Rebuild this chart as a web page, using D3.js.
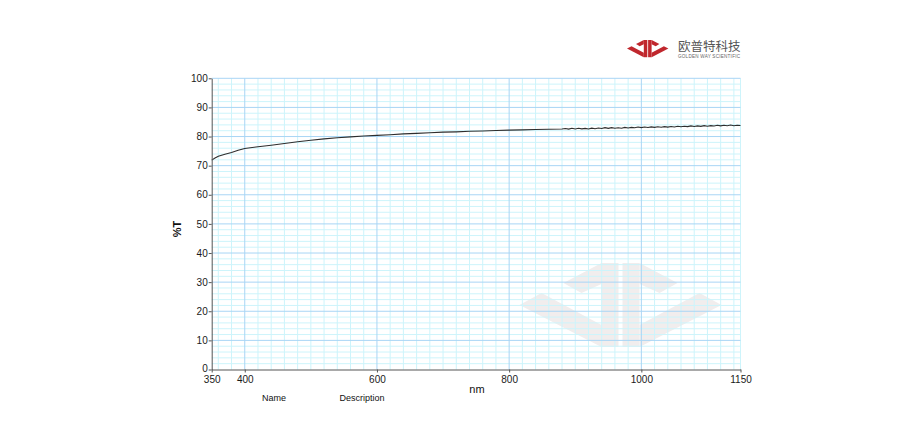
<!DOCTYPE html>
<html>
<head>
<meta charset="utf-8">
<script src="https://cdn.jsdelivr.net/npm/d3@7"></script>
<style>
  html, body { margin: 0; padding: 0; background: #ffffff; }
  svg { display: block; font-family: "Liberation Sans", Arial, sans-serif; }
</style>
</head>
<body>
<svg id="chart" width="924" height="440"></svg>
<script>
// ---- data ----
const wavelengths = [350,355,360,370,380,390,400,420,440,460,480,500,520,540,560,580,600,620,640,660,680,700,720,740,760,780,800,820,840,860,880,
  885,890,895,900,905,910,915,920,925,930,935,940,945,950,955,960,965,970,975,980,985,990,995,1000,
  1005,1010,1015,1020,1025,1030,1035,1040,1045,1050,1055,1060,1065,1070,1075,1080,1085,1090,1095,1100,
  1105,1110,1115,1120,1125,1130,1135,1140,1145,1150];
const transmittance = [71.9,72.6,73.2,73.9,74.5,75.3,75.9,76.5,77.0,77.6,78.2,78.7,79.2,79.6,79.9,80.2,80.4,80.6,80.9,81.1,81.3,81.5,81.6,81.8,81.9,82.1,82.2,82.3,82.4,82.5,82.6,
  82.75,82.55,82.85,82.6,82.85,82.65,82.8,82.6,82.9,82.7,82.95,82.75,83.05,82.8,83.05,82.85,83.0,82.85,83.15,82.95,83.15,83.0,83.25,83.05,
  83.25,83.1,83.3,83.15,83.35,83.2,83.4,83.25,83.45,83.3,83.55,83.35,83.55,83.4,83.65,83.45,83.65,83.5,83.75,83.55,
  83.75,83.6,83.85,83.65,83.85,83.7,83.95,83.7,83.9,83.8];
const xTickLabels = [350, 400, 600, 800, 1000, 1150];
const yTickLabels = [0,10,20,30,40,50,60,70,80,90,100];
const xMajorGrid = [400, 600, 800, 1000];
const xMinorGrid = [360,380,420,440,460,480,500,520,540,560,580,620,640,660,680,700,720,740,760,780,820,840,860,880,900,920,940,960,980,1020,1040,1060,1080,1100,1120,1140,1150];
const yMajorGrid = [10,20,30,40,50,60,70,80,90,100];
const yMinorGrid = [2,4,6,8,12,14,16,18,22,24,26,28,32,34,36,38,42,44,46,48,52,54,56,58,62,64,66,68,72,74,76,78,82,84,86,88,92,94,96,98];
const xAxisTitle = "nm";
const yAxisTitle = "%T";
const footerLabels = ["Name", "Description"];
const brandName = "欧普特科技";
const brandSub = "GOLDEN WAY SCIENTIFIC";

// ---- layout ----
const svg = d3.select("#chart");
const x = d3.scaleLinear().domain([350, 1150]).range([211.7, 740.5]);
const y = d3.scaleLinear().domain([0, 100]).range([369.5, 78.3]);

// logo shape (unit coordinates, width ~202, height ~84)
const logoPolys = [
  [[82,0],[99,0],[99,84],[82,84]],
  [[44,20],[82,0],[82,21],[62,30]],
  [[0,42],[22,30],[82,62],[82,84]],
  [[103,0],[120,0],[120,84],[103,84]],
  [[120,0],[158,20],[140,30],[120,21]],
  [[120,62],[180,30],[202,42],[120,84]]
];
function drawLogo(g, tx, ty, s, fill, opacity) {
  const lg = g.append("g").attr("transform", `translate(${tx},${ty}) scale(${s})`);
  lg.selectAll("polygon").data(logoPolys).join("polygon")
    .attr("points", d => d.map(p => p.join(",")).join(" "))
    .attr("fill", fill).attr("opacity", opacity);
}

// watermark (under grid)
drawLogo(svg, 519.5, 263, 1, "#f1eded", 1);

// grid
const grid = svg.append("g");
grid.selectAll(".ymin").data(yMinorGrid).join("line")
  .attr("x1", x(350)).attr("x2", x(1150)).attr("y1", d => y(d)).attr("y2", d => y(d))
  .attr("stroke", "#cdf4fb").attr("stroke-width", 1);
grid.selectAll(".xmin").data(xMinorGrid).join("line")
  .attr("y1", y(0)).attr("y2", y(100)).attr("x1", d => x(d)).attr("x2", d => x(d))
  .attr("stroke", "#cdf4fb").attr("stroke-width", 1);
grid.selectAll(".ymaj").data(yMajorGrid).join("line")
  .attr("x1", x(350)).attr("x2", x(1150)).attr("y1", d => y(d)).attr("y2", d => y(d))
  .attr("stroke", "#a9d5f5").attr("stroke-width", 1);
grid.selectAll(".xmaj").data(xMajorGrid).join("line")
  .attr("y1", y(0)).attr("y2", y(100)).attr("x1", d => x(d)).attr("x2", d => x(d))
  .attr("stroke", "#a9d5f5").attr("stroke-width", 1);

// curve
const line = d3.line().x((d, i) => x(wavelengths[i])).y(d => y(d)).curve(d3.curveLinear);
svg.append("path").datum(transmittance)
  .attr("d", line).attr("fill", "none").attr("stroke", "#2e2e2e").attr("stroke-width", 1.1);

// axes
const yAxis = d3.axisLeft(y).tickValues(yTickLabels).tickSize(3).tickPadding(1).tickSizeOuter(0);
const yg = svg.append("g").attr("transform", `translate(${x(350)},0)`).call(yAxis);
const xAxis = d3.axisBottom(x).tickValues(xTickLabels).tickSize(3).tickPadding(3).tickSizeOuter(0).tickFormat(d3.format("d"));
const xg = svg.append("g").attr("transform", `translate(0,${y(0)})`).call(xAxis);
[yg, xg].forEach(g => {
  g.select(".domain").attr("stroke", "#555").attr("stroke-width", 1);
  g.selectAll(".tick line").attr("stroke", "#555");
  g.selectAll("text").attr("font-size", 10).attr("fill", "#1a1a1a")
    .attr("font-family", "'Liberation Sans', Arial, sans-serif");
});
yg.selectAll(".tick text").filter(d => d === 0).attr("dy", "0.15em");

// titles
svg.append("text").attr("x", 477).attr("y", 393).attr("text-anchor", "middle")
  .attr("font-size", 11).attr("fill", "#111").text(xAxisTitle);
svg.append("text").attr("transform", "translate(181,229) rotate(-90)").attr("text-anchor", "middle")
  .attr("font-size", 11).attr("font-weight", "bold").attr("fill", "#111").text(yAxisTitle);
svg.append("text").attr("x", 274).attr("y", 401).attr("text-anchor", "middle")
  .attr("font-size", 9).attr("fill", "#111").text(footerLabels[0]);
svg.append("text").attr("x", 362).attr("y", 401).attr("text-anchor", "middle")
  .attr("font-size", 9).attr("fill", "#111").text(footerLabels[1]);

// brand logo
drawLogo(svg, 627, 40, 0.205, "#c0272d", 1);
svg.append("text").attr("x", 678).attr("y", 51).attr("font-size", 12.5)
  .attr("font-family", "'Noto Sans CJK SC', sans-serif").attr("fill", "#555").text(brandName);
svg.append("text").attr("x", 678).attr("y", 58).attr("font-size", 4.6)
  .attr("fill", "#666").attr("textLength", 62).text(brandSub);
</script>
</body>
</html>
